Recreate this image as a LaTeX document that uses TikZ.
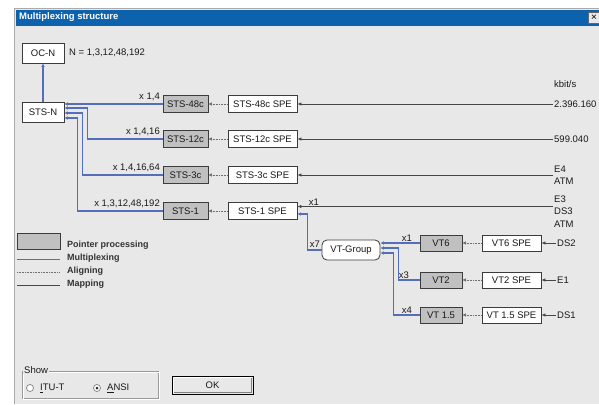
\documentclass[tikz,border=0pt]{standalone}
\usepackage{fontspec}
\setmainfont{Liberation Sans}
\usetikzlibrary{arrows.meta}
\definecolor{win}{RGB}{232,232,232}
\definecolor{winedge}{RGB}{170,170,170}
\definecolor{titleblue}{RGB}{12,98,172}
\definecolor{ptrgray}{RGB}{192,192,192}
\definecolor{boxedge}{RGB}{60,60,60}
\definecolor{muxblue}{RGB}{85,110,185}
\definecolor{mapcol}{RGB}{70,70,70}
\definecolor{aligncol}{RGB}{110,110,110}
\tikzset{
  txt/.style={font=\fontsize{9.5}{12.5}\selectfont, inner sep=1pt, text=black!90},
  legtxt/.style={font=\bfseries\fontsize{9}{11}\selectfont, inner sep=1pt, text=black!80, anchor=west},
  wbox/.style={txt, draw=boxedge, line width=0.8pt, fill=white, inner sep=0pt},
  ptrbox/.style={txt, draw=boxedge, line width=0.8pt, fill=ptrgray, inner sep=0pt},
  stsptr/.style={ptrbox, minimum width=45pt, minimum height=17pt},
  stsspe/.style={wbox, minimum width=69pt, minimum height=17pt},
  vtptr/.style={ptrbox, minimum width=42pt, minimum height=16pt},
  vtspe/.style={wbox, minimum width=59pt, minimum height=16pt},
  mux/.style={draw=muxblue, line width=1.3pt, {Latex[length=3.5pt,width=3.5pt]}-},
  muxplain/.style={draw=muxblue, line width=1.3pt},
  map/.style={draw=mapcol, line width=0.9pt, -{Latex[length=4pt,width=3.5pt]}},
  mapplain/.style={draw=mapcol, line width=0.9pt},
  aligned/.style={draw=aligncol, line width=0.6pt, densely dotted, -{Latex[length=3.5pt,width=3.5pt]}},
  alignplain/.style={draw=aligncol, line width=0.6pt, densely dotted},
  mult/.style={txt, anchor=east},
  inlab/.style={txt, anchor=west, align=left},
}
\begin{document}
\begin{tikzpicture}[x=1pt,y=-1pt]
\useasboundingbox (0,0) rectangle (599,404);
\fill[white] (0,0) rectangle (599,404);
% window
\fill[win] (14,8) rectangle (599,404);
\draw[winedge, line width=1pt] (14.5,404) -- (14.5,8.5) -- (599,8.5);
\fill[titleblue] (16,10) rectangle (599,26);
\node[font=\bfseries\fontsize{9.5}{11}\selectfont, text=white, anchor=west, inner sep=0pt] (title) at (19,17.5) {Multiplexing structure};
\node[draw=black!60, fill=win, minimum width=11pt, minimum height=11pt, inner sep=0pt, font=\fontsize{10}{10}\selectfont] (close) at (594,18) {×};

% top boxes
\node[wbox, minimum width=42pt, minimum height=20pt] (ocn) at (43,53) {OC-N};
\node[txt, anchor=west] (nlab) at (68,53) {N = 1,3,12,48,192};
\node[wbox, minimum width=42pt, minimum height=20pt] (stsn) at (43,112) {STS-N};
\draw[muxplain, -{Latex[length=3.5pt,width=3.5pt]}] (stsn.north) -- (ocn.south);

% STS rows
\node[stsptr] (p48) at (185.5,104) {STS-48c};
\node[stsspe] (s48) at (262.5,104) {STS-48c SPE};
\node[stsptr] (p12) at (185.5,139) {STS-12c};
\node[stsspe] (s12) at (262.5,139) {STS-12c SPE};
\node[stsptr] (p3) at (185.5,175) {STS-3c};
\node[stsspe] (s3) at (262.5,175) {STS-3c SPE};
\node[stsptr] (p1) at (185.5,211) {STS-1};
\node[stsspe] (s1) at (262.5,211) {STS-1 SPE};

% multiplexing from STS-N
\draw[mux] ([yshift=8pt]stsn.east) -- (p48.west);
\draw[mux] ([yshift=4pt]stsn.east) -- ++(23,0) |- (p12.west);
\draw[mux] ([yshift=-1pt]stsn.east) -- ++(18,0) |- (p3.west);
\draw[mux] ([yshift=-6pt]stsn.east) -- ++(13,0) |- (p1.west);
\node[mult] (m48) at (161,97) {x 1,4};
\node[mult] (m12) at (161,132) {x 1,4,16};
\node[mult] (m3) at (161,168) {x 1,4,16,64};
\node[mult] (m1) at (161,204) {x 1,3,12,48,192};

% aligning
\draw[aligned] (s48.west) -- (p48.east);
\draw[aligned] (s12.west) -- (p12.east);
\draw[aligned] (s3.west) -- (p3.east);
\draw[aligned] (s1.west) -- (p1.east);

% mapping inputs
\node[inlab] (kbit) at (553,84) {kbit/s};
\node[inlab] (i48) at (553,104) {2.396.160};
\node[inlab] (i12) at (553,139) {599.040};
\node[inlab] (i3) at (553,175) {E4\\ATM};
\node[inlab] (i1) at (553,211.5) {E3\\DS3\\ATM};
\coordinate (c1) at ([yshift=5pt]i1.west);
\draw[map] (i48.west) -- (s48.east);
\draw[map] (i12.west) -- (s12.east);
\draw[map] (i3.west) -- (s3.east);
\draw[map] (c1) -- (c1 -| s1.east);
\node[txt] (x1top) at (314,202) {x1};

% VT group
\node[wbox, rounded corners=5pt, minimum width=58pt, minimum height=20pt] (vtg) at (351,250) {VT-Group};
\draw[mux] ([yshift=-3pt]s1.east) -- ++(10,0) |- (vtg.west);
\node[txt] (x7) at (315,244) {x7};

\node[vtptr] (vt6) at (441,243) {VT6};
\node[vtspe] (sv6) at (511.5,243) {VT6 SPE};
\node[vtptr] (vt2) at (441,280) {VT2};
\node[vtspe] (sv2) at (511.5,280) {VT2 SPE};
\node[vtptr] (vt15) at (441,315) {VT 1.5};
\node[vtspe] (sv15) at (511.5,315) {VT 1.5 SPE};

\draw[mux] ([yshift=7pt]vtg.east) -- (vt6.west);
\draw[mux] ([yshift=2pt]vtg.east) -- ++(18,0) |- (vt2.west);
\draw[mux] ([yshift=-3pt]vtg.east) -- ++(13,0) |- (vt15.west);
\node[txt] (xa) at (407,238) {x1};
\node[txt] (xb) at (404,275) {x3};
\node[txt] (xc) at (407,310) {x4};

\draw[aligned] (sv6.west) -- (vt6.east);
\draw[aligned] (sv2.west) -- (vt2.east);
\draw[aligned] (sv15.west) -- (vt15.east);

\node[inlab] (ds2) at (556,243) {DS2};
\node[inlab] (e1) at (556,280) {E1};
\node[inlab] (ds1) at (556,315) {DS1};
\draw[map] (ds2.west) -- (sv6.east);
\draw[map] (e1.west) -- (sv2.east);
\draw[map] (ds1.west) -- (sv15.east);

% legend
\node[ptrbox, minimum width=43pt, minimum height=16pt] (lgbox) at (38.5,241) {};
\node[legtxt] (lg1) at (66,245) {Pointer processing};
\node[legtxt] (lg2) at (66,258) {Multiplexing};
\node[legtxt] (lg3) at (66,271) {Aligning};
\node[legtxt] (lg4) at (66,284) {Mapping};
\coordinate (la2) at (17,259); \coordinate (la3) at (17,272); \coordinate (la4) at (17,285);
\coordinate (lb2) at (60,259); \coordinate (lb3) at (60,272); \coordinate (lb4) at (60,285);
\draw[muxplain, line width=1pt] (la2) -- (lb2);
\draw[alignplain] (la3) -- (lb3);
\draw[mapplain, line width=0.7pt] (la4) -- (lb4);

% Show group
\draw[black!40, line width=0.7pt] (22,371) rectangle (158,398);
\draw[white, line width=0.7pt] (23,372) rectangle (159,399);
\node[txt, fill=win, anchor=west, inner sep=1pt] (show) at (23,370) {Show};
\draw[black!50, fill=white, line width=0.7pt] (30,388) circle (3.5);
\node[txt, anchor=west] (itu) at (39,388.5) {\underline{I}TU-T};
\draw[black!50, fill=white, line width=0.7pt] (97,388) circle (3.5);
\fill[black!85] (97,388) circle (1.5);
\node[txt, anchor=west] (ansi) at (106,388.5) {\underline{A}NSI};

% OK button
\fill[win] (172,376) rectangle (253,394);
\draw[black, line width=0.8pt] (172,376) rectangle (253,394);
\draw[white, line width=0.8pt] (173.5,392.5) -- (173.5,377.5) -- (251.5,377.5);
\draw[black!50, line width=0.8pt] (173.5,392.5) -- (251.5,392.5) -- (251.5,377.5);
\node[txt] (ok) at (212.5,385) {OK};
\end{tikzpicture}
\end{document}
